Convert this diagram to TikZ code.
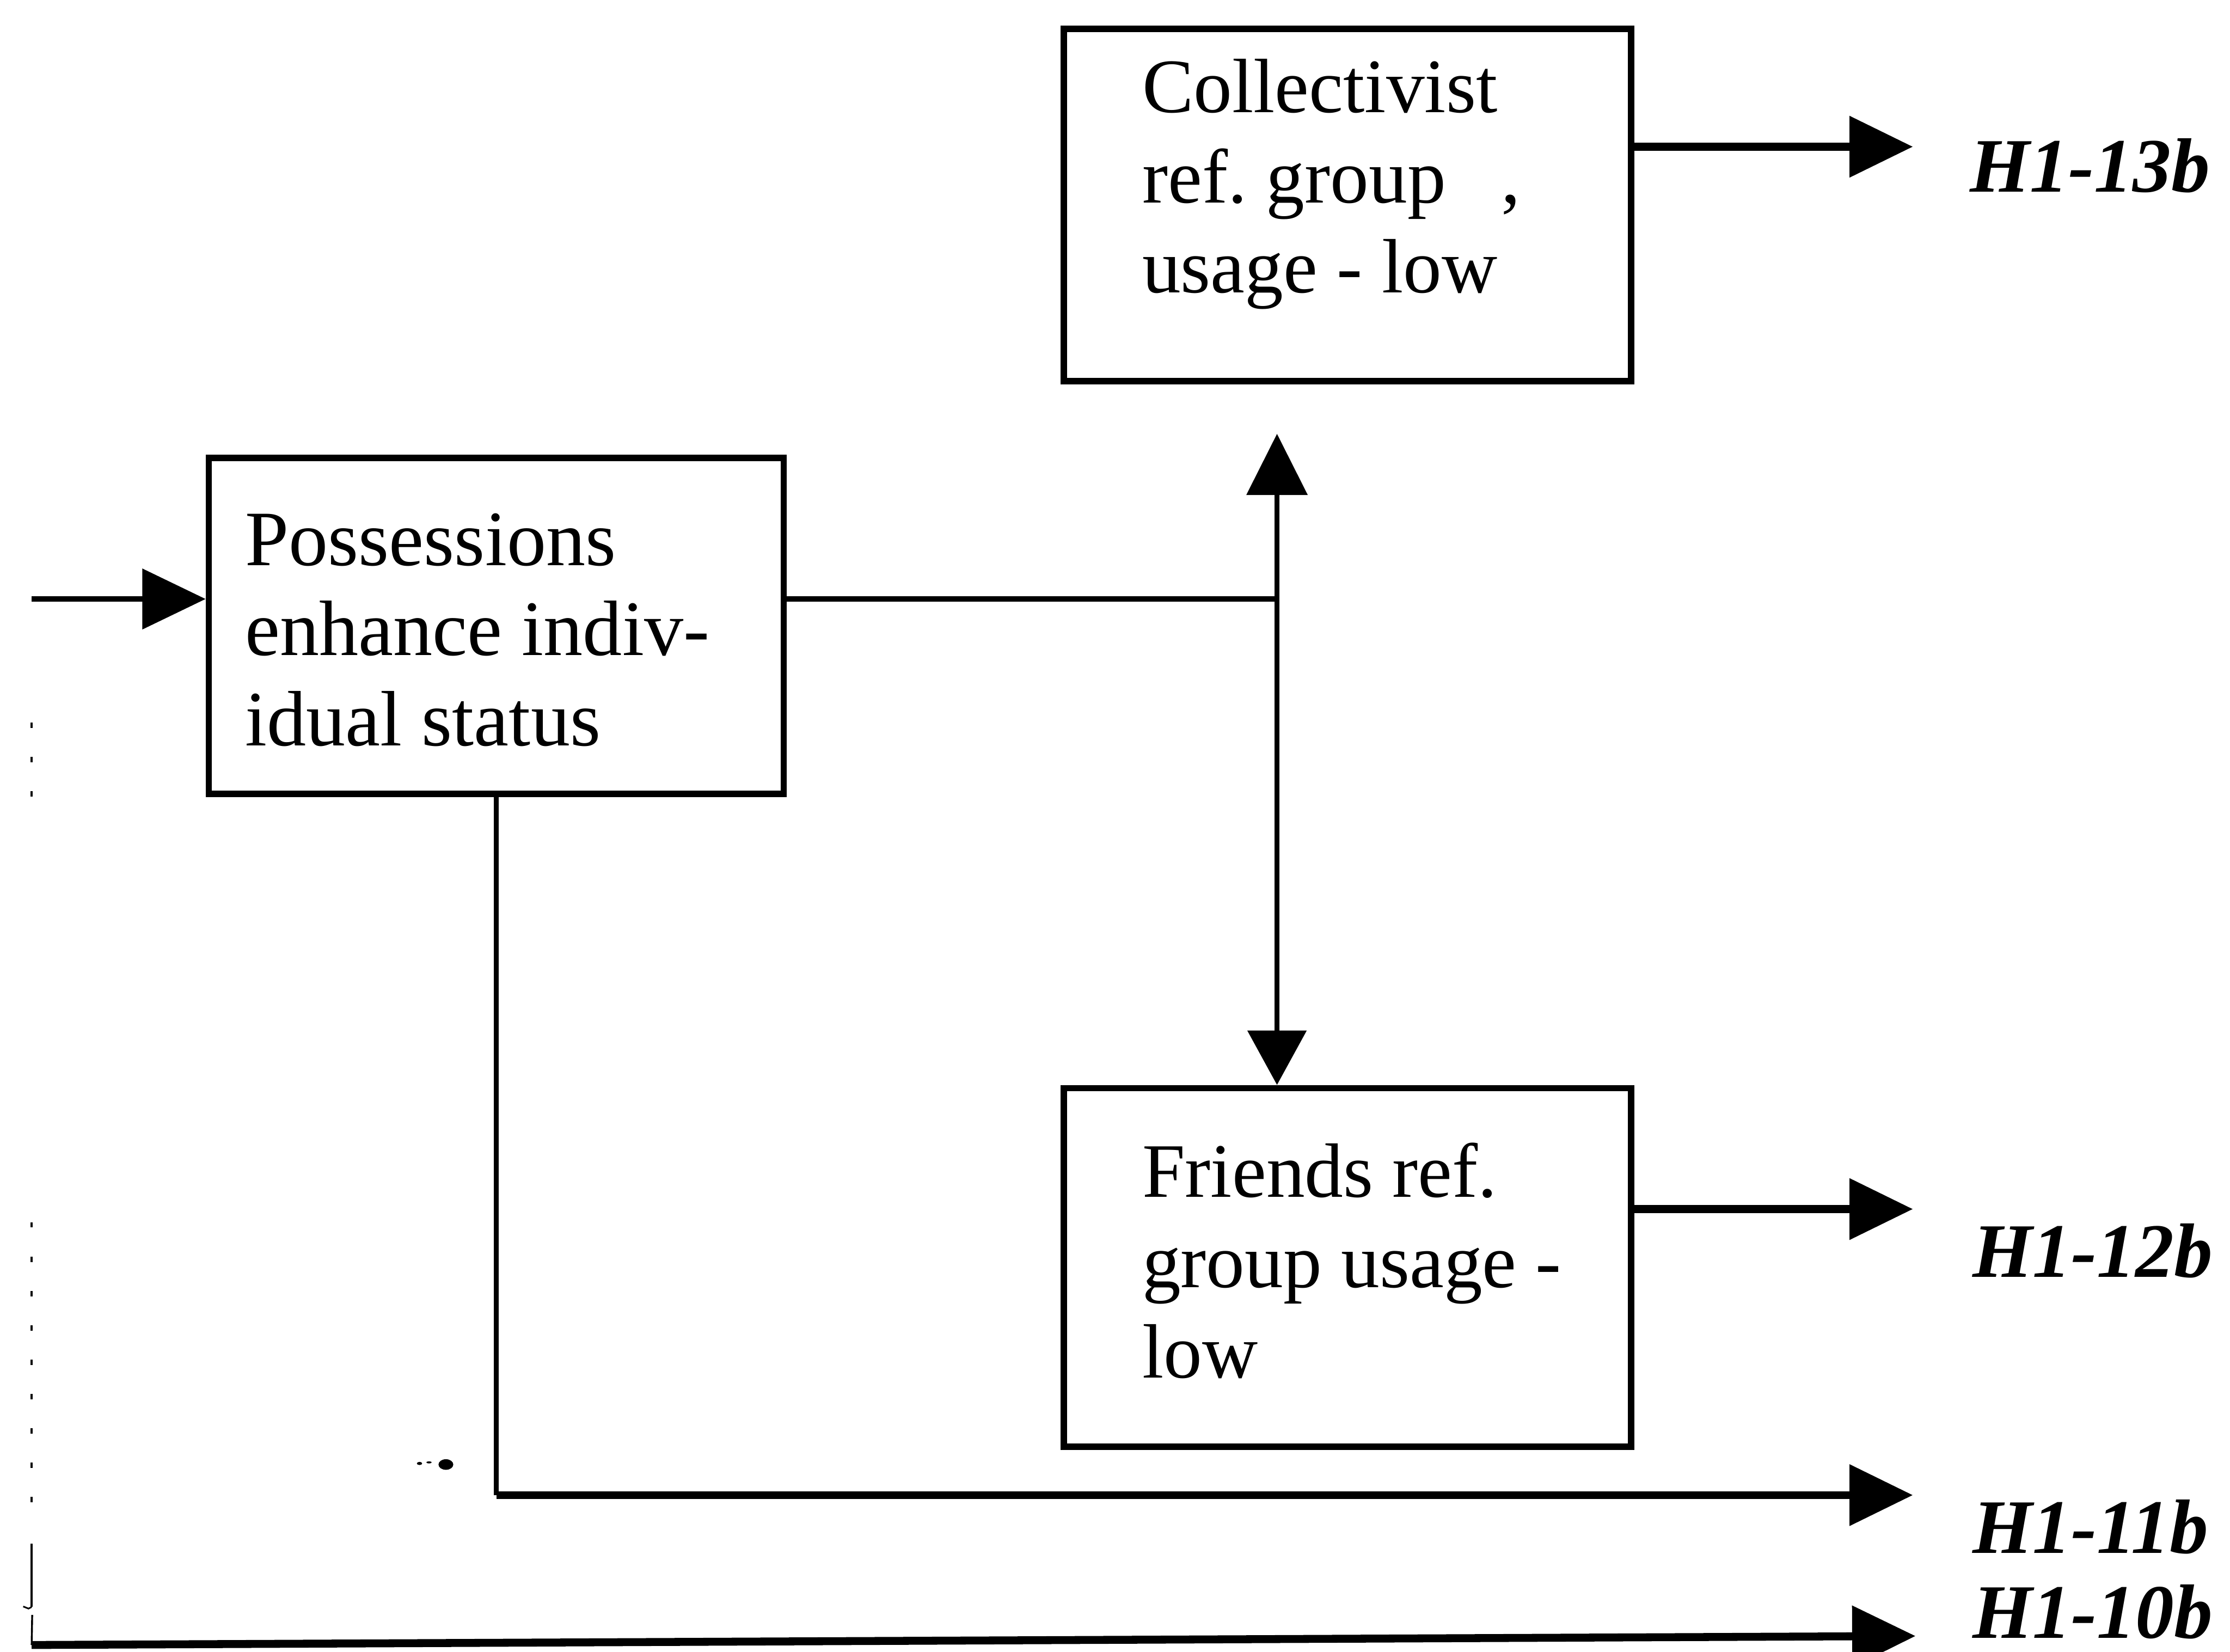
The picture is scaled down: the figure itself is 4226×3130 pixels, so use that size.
\documentclass[tikz,border=0pt]{standalone}
\usepackage{fontspec}
\setmainfont{Liberation Serif}
\usetikzlibrary{arrows.meta}
\frenchspacing
\begin{document}
\begin{tikzpicture}[x=0.01cm, y=-0.01cm,
  box/.style={draw, rectangle, line width=0.12cm, inner sep=0pt},
  boxtext/.style={anchor=north west, align=left, inner sep=0pt,
    font=\fontsize{41.5pt}{48.6pt}\selectfont},
  hyp/.style={anchor=base west, inner sep=0pt,
    font=\fontsize{41.5pt}{48pt}\selectfont\bfseries\itshape},
  conn/.style={line width=0.15cm},
  vconn/.style={line width=0.10cm},
  tip/.style={-{Triangle[length=1.2cm, width=1.13cm]}},
  twotips/.style={{Triangle[length=1.16cm, width=1.14cm]}-{Triangle[length=1.03cm, width=1.1cm]}},
  scanline/.style={line width=0.035cm, dash pattern=on 0.1cm off 0.55cm}
]
% page
\fill[white] (0,0) rectangle (4226,3130);
\useasboundingbox (0,0) rectangle (4226,3130);

% boxes
\node[box, minimum width=10.75cm, minimum height=6.67cm] (coll) at (2553.5,388.5) {};
\node[box, minimum width=10.89cm, minimum height=6.36cm] (poss) at (940.5,1186) {};
\node[box, minimum width=10.75cm, minimum height=6.79cm] (frnd) at (2553.5,2401.5) {};

% box texts
\node[boxtext] (colltxt) at (2164,111) {Collectivist\\ref. group\hspace{1.05cm},\\usage - low};
\node[boxtext, font=\fontsize{42.3pt}{48.6pt}\selectfont] (posstxt) at (464,972) {Possessions\\enhance indiv-\\idual status};
\node[boxtext] (frndtxt) at (2164,2165) {Friends ref.\\group usage -\\low};

% hypothesis labels
\node[hyp] (h13) at (3733,364) {H1-13b};
\node[hyp] (h12) at (3738,2420) {H1-12b};
\node[hyp] (h11) at (3738,2943) {H1-11b};
\node[hyp] (h10) at (3738,3104) {H1-10b};

% connector points
\coordinate (in)   at (60,1135);
\coordinate (jn)   at (2420,1135);
\coordinate (up)   at (2420,822);
\coordinate (t13)  at (3625,278);
\coordinate (t12)  at (3625,2291);
\coordinate (t11)  at (3625,2833);
\coordinate (t10)  at (3630,3100);
\coordinate (c0)   at (60,3117);

% input arrow
\draw[vconn, tip] (in) -- (in -| poss.west);
% possessions to the two reference-group boxes
\draw[vconn] (jn -| poss.east) -- (jn);
\draw[vconn, twotips] (up) -- (up |- frnd.north);
% outgoing hypotheses
\draw[conn, tip] (t13 -| coll.east) -- (t13);
\draw[conn, tip] (t12 -| frnd.east) -- (t12);
\draw[vconn] (poss.south) -- (poss.south |- t11);
\draw[conn, tip] (poss.south |- t11) -- (t11);
\draw[conn, tip] (c0) -- (t10);

% faint left riser
\draw[scanline] (60,1369) -- (60,1528);
\draw[scanline] (60,2316) -- (60,2880);
\draw[line width=0.035cm] (60,2925) -- (60,3045);
\draw[line width=0.03cm] (44,3044) -- (54,3048) -- (60,3045);
\draw[line width=0.035cm] (61,3060) -- (60,3117);

% specks
\fill (795,2773) ellipse (0.05cm and 0.03cm);
\fill (813,2771) ellipse (0.05cm and 0.02cm);
\fill (845,2775) ellipse (0.14cm and 0.1cm);
\end{tikzpicture}
\end{document}
